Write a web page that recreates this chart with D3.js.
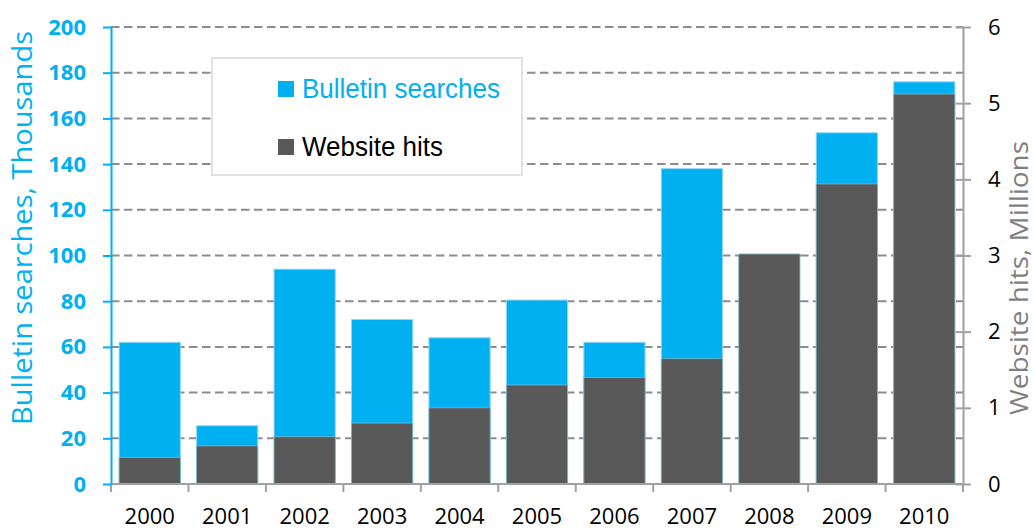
<!DOCTYPE html>
<html>
<head>
<meta charset="utf-8">
<script src="https://cdnjs.cloudflare.com/ajax/libs/d3/7.8.5/d3.min.js"></script>
<style>
body { margin: 0; background: #fff; }
svg { display: block; font-family: "Open Sans", sans-serif; }
.grid line { stroke: #8c8c8c; stroke-width: 2; stroke-dasharray: 8.5,4.5; }
</style>
</head>
<body>
<svg class="chart" width="1035" height="529"></svg>
<script>

// values
var years = ["2000", "2001", "2002", "2003", "2004", "2005", "2006", "2007", "2008", "2009", "2010"]
var bulletinSearches = [62, 25.5, 94, 72, 64, 80.5, 62, 138, null, 153.7, 176]   // thousands, 2008 hidden behind hits
var websiteHits = [0.35, 0.5, 0.62, 0.8, 1.0, 1.3, 1.4, 1.645, 3.02, 3.94, 5.12]    // millions
var leftTicks = [0, 20, 40, 60, 80, 100, 120, 140, 160, 180, 200]
var rightTicks = [0, 1, 2, 3, 4, 5, 6]

var blue = "#00b0f0"
var dark = "#595959"

var plotL = 111, plotR = 963, plotT = 27, plotB = 484

var svg = d3.select(".chart")

var x = d3.scaleBand()
	.domain(years)
	.range([plotL, plotR])
	.padding(0)
var barW = x.bandwidth() * 0.79

var yLeft = d3.scaleLinear().domain([0, 200]).range([plotB, plotT])
var yRight = d3.scaleLinear().domain([0, 6]).range([plotB, plotT])

// dashed gridlines
svg.append("g")
	.attr("class", "grid")
	.selectAll("line")
	.data(leftTicks.slice(1))
	.enter().append("line")
		.attr("x1", plotL)
		.attr("x2", plotR)
		.attr("y1", function(d) { return yLeft(d) })
		.attr("y2", function(d) { return yLeft(d) })

// bulletin searches, behind
svg.append("g")
	.selectAll("rect")
	.data(years.map(function(d, i) { return {year: d, v: bulletinSearches[i]} }).filter(function(d) { return d.v != null }))
	.enter().append("rect")
		.attr("x", function(d) { return x(d.year) + (x.bandwidth() - barW) / 2 })
		.attr("width", barW)
		.attr("y", function(d) { return yLeft(d.v) })
		.attr("height", function(d) { return plotB - yLeft(d.v) })
		.attr("fill", blue)
		.attr("stroke", "#8fd6f5")
		.attr("stroke-width", 1)

// website hits, in front
svg.append("g")
	.selectAll("rect")
	.data(years.map(function(d, i) { return {year: d, v: websiteHits[i]} }))
	.enter().append("rect")
		.attr("x", function(d) { return x(d.year) + (x.bandwidth() - barW) / 2 })
		.attr("width", barW)
		.attr("y", function(d) { return yRight(d.v) })
		.attr("height", function(d) { return plotB - yRight(d.v) })
		.attr("fill", dark)
		.attr("stroke", "#7fb6c9")
		.attr("stroke-width", 0.8)

// x axis
var xAxis = svg.append("g")
xAxis.append("line")
	.attr("x1", plotL).attr("x2", plotR)
	.attr("y1", plotB).attr("y2", plotB)
	.attr("stroke", "#a0a0a0").attr("stroke-width", 2)
xAxis.selectAll(".xtick")
	.data(years.concat(["end"]))
	.enter().append("line")
		.attr("class", "xtick")
		.attr("x1", function(d) { return d == "end" ? plotR : x(d) })
		.attr("x2", function(d) { return d == "end" ? plotR : x(d) })
		.attr("y1", plotB).attr("y2", plotB + 8)
		.attr("stroke", "#a0a0a0").attr("stroke-width", 2)
xAxis.selectAll("text")
	.data(years)
	.enter().append("text")
		.attr("x", function(d) { return x(d) + x.bandwidth() / 2 })
		.attr("y", 524)
		.attr("text-anchor", "middle")
		.attr("font-size", 22)
		.attr("fill", "#000")
		.text(function(d) { return d })

// left axis
var yAxisL = svg.append("g")
	.attr("transform", "translate(" + plotL + ",0)")
	.call(d3.axisLeft(yLeft).tickValues(leftTicks).tickSize(8).tickSizeOuter(0).tickPadding(17))
yAxisL.select(".domain").attr("stroke", blue).attr("stroke-width", 2)
yAxisL.selectAll(".tick line").attr("stroke", blue).attr("stroke-width", 2)
yAxisL.selectAll(".tick text")
	.attr("fill", blue)
	.attr("font-size", 22)
	.attr("font-weight", "bold")
	.attr("font-family", "Open Sans, sans-serif")

// right axis
var yAxisR = svg.append("g")
	.attr("transform", "translate(" + plotR + ",0)")
	.call(d3.axisRight(yRight).tickValues(rightTicks).tickFormat(d3.format("d")).tickSize(8).tickSizeOuter(0).tickPadding(17))
yAxisR.select(".domain").attr("stroke", "#a0a0a0").attr("stroke-width", 2)
yAxisR.selectAll(".tick line").attr("x1", -7.5).attr("x2", 8).attr("stroke", "#a0a0a0").attr("stroke-width", 2)
yAxisR.selectAll(".tick text")
	.attr("fill", "#000")
	.attr("font-size", 22)
	.attr("font-family", "Open Sans, sans-serif")
yAxisR.append("line")
	.attr("y1", plotB).attr("y2", plotB + 8)
	.attr("stroke", "#a0a0a0").attr("stroke-width", 2)

// axis titles
svg.append("text")
	.attr("transform", "translate(32,228) rotate(-90)")
	.attr("text-anchor", "middle")
	.attr("font-size", 27)
	.attr("fill", blue)
	.attr("textLength", 394)
	.attr("lengthAdjust", "spacingAndGlyphs")
	.text("Bulletin searches, Thousands")

svg.append("text")
	.attr("transform", "translate(1028,278) rotate(-90)")
	.attr("text-anchor", "middle")
	.attr("font-size", 26)
	.attr("fill", "#7f7f7f")
	.attr("textLength", 274)
	.attr("lengthAdjust", "spacingAndGlyphs")
	.text("Website hits, Millions")

// legend
var legend = svg.append("g")
legend.append("rect")
	.attr("x", 212).attr("y", 58)
	.attr("width", 310).attr("height", 117)
	.attr("fill", "#fff")
	.attr("stroke", "#d9d9d9").attr("stroke-width", 1.5)

var legendItems = [
	{label: "Bulletin searches", color: blue, text: blue, y: 98, w: 198},
	{label: "Website hits", color: dark, text: "#000", y: 156, w: 141}
]
legendItems.forEach(function(d) {
	legend.append("rect")
		.attr("x", 278).attr("y", d.y - 17)
		.attr("width", 16).attr("height", 16)
		.attr("fill", d.color)
	legend.append("text")
		.attr("x", 302).attr("y", d.y)
		.attr("font-family", "Liberation Sans Narrow, Liberation Sans, Arial, sans-serif")
		.attr("font-size", 27)
		.attr("fill", d.text)
		.attr("textLength", d.w)
		.attr("lengthAdjust", "spacingAndGlyphs")
		.text(d.label)
})

</script>
</body>
</html>
